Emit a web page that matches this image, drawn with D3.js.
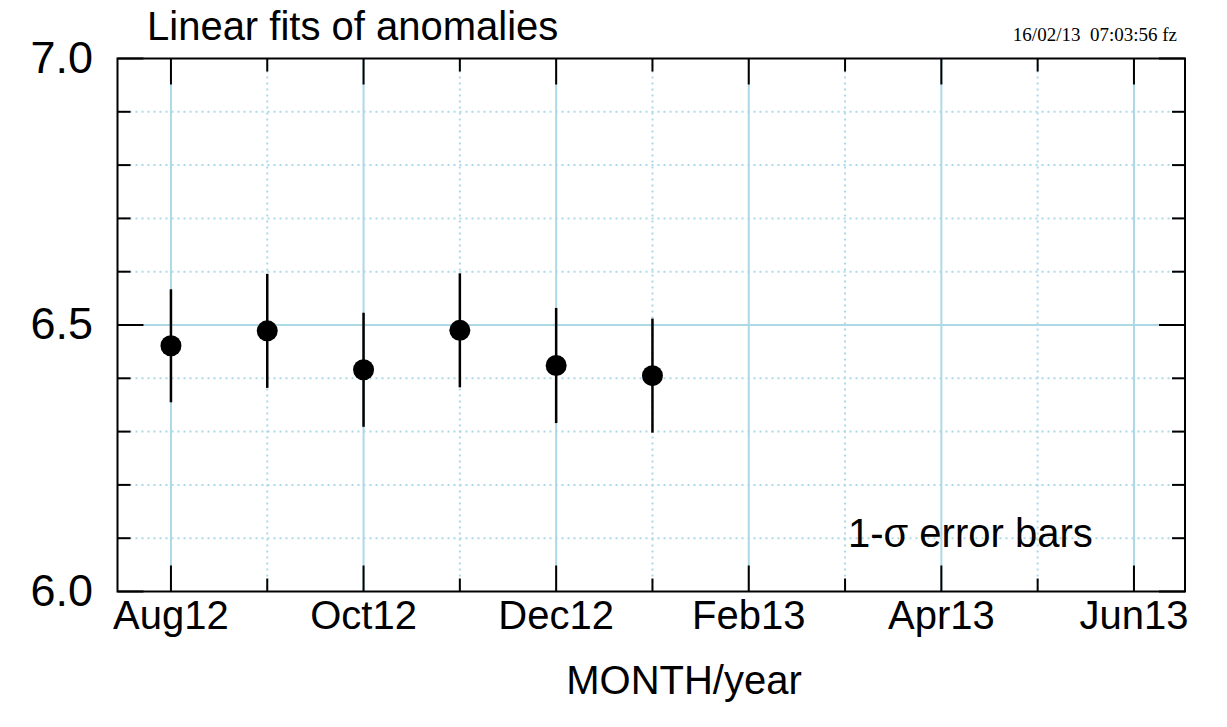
<!DOCTYPE html>
<html>
<head>
<meta charset="utf-8">
<script src="https://cdn.jsdelivr.net/npm/d3@7"></script>
<style>
  body { margin: 0; background: #fff; }
  svg { display: block; }
  text { font-family: "Liberation Sans", Arial, sans-serif; fill: #000; }
</style>
</head>
<body>
<svg id="chart" width="1227" height="727"></svg>
<script>
// fitted values per month (month index 0 = Aug12)
const months = [0, 1, 2, 3, 4, 5];
const values = [6.461, 6.489, 6.416, 6.490, 6.424, 6.405];
const errors = [0.106, 0.107, 0.107, 0.107, 0.108, 0.107];

const xTickLabels = ["Aug12", "Oct12", "Dec12", "Feb13", "Apr13", "Jun13"];
const xMajor = [0, 2, 4, 6, 8, 10];
const xMinor = [1, 3, 5, 7, 9];
const yMajor = [6.0, 6.5, 7.0];
const yMinor = [6.1, 6.2, 6.3, 6.4, 6.6, 6.7, 6.8, 6.9];

const m = { left: 117.5, top: 58.5, right: 1185, bottom: 591.5 };

const svg = d3.select("#chart");

const x = d3.scaleLinear().domain([-0.555, 10.53]).range([m.left, m.right]);
const y = d3.scaleLinear().domain([6.0, 7.0]).range([m.bottom, m.top]);

const gridColor = "#add8e6";
const major = 26, minor = 13;
const fs = "40px";

// grid
const grid = svg.append("g");
grid.selectAll(".gx").data(xMajor).join("line")
  .attr("x1", d => x(d)).attr("x2", d => x(d))
  .attr("y1", m.top).attr("y2", m.bottom)
  .attr("stroke", gridColor).attr("stroke-width", 2);
grid.selectAll(".gxm").data(xMinor).join("line")
  .attr("x1", d => x(d)).attr("x2", d => x(d))
  .attr("y1", m.top).attr("y2", m.bottom)
  .attr("stroke", gridColor).attr("stroke-width", 2)
  .attr("stroke-dasharray", "2,4");
grid.selectAll(".gy").data(yMajor.filter(d => d > 6 && d < 7)).join("line")
  .attr("x1", m.left).attr("x2", m.right)
  .attr("y1", d => y(d)).attr("y2", d => y(d))
  .attr("stroke", gridColor).attr("stroke-width", 2);
grid.selectAll(".gym").data(yMinor).join("line")
  .attr("x1", m.left).attr("x2", m.right)
  .attr("y1", d => y(d)).attr("y2", d => y(d))
  .attr("stroke", gridColor).attr("stroke-width", 2)
  .attr("stroke-dasharray", "2,4");

// tick marks
const ticks = svg.append("g").attr("stroke", "#000").attr("stroke-width", 2);
const xt = xMajor.map(d => [d, major]).concat(xMinor.map(d => [d, minor]));
ticks.selectAll(".xb").data(xt).join("line")
  .attr("x1", d => x(d[0])).attr("x2", d => x(d[0]))
  .attr("y1", m.bottom).attr("y2", d => m.bottom - d[1]);
ticks.selectAll(".xt").data(xt).join("line")
  .attr("x1", d => x(d[0])).attr("x2", d => x(d[0]))
  .attr("y1", m.top).attr("y2", d => m.top + d[1]);
const yt = yMajor.map(d => [d, major]).concat(yMinor.map(d => [d, minor]));
ticks.selectAll(".yl").data(yt).join("line")
  .attr("x1", m.left).attr("x2", d => m.left + d[1])
  .attr("y1", d => y(d[0])).attr("y2", d => y(d[0]));
ticks.selectAll(".yr").data(yt).join("line")
  .attr("x1", m.right).attr("x2", d => m.right - d[1])
  .attr("y1", d => y(d[0])).attr("y2", d => y(d[0]));

// frame
svg.append("rect")
  .attr("x", m.left).attr("y", m.top)
  .attr("width", m.right - m.left).attr("height", m.bottom - m.top)
  .attr("fill", "none").attr("stroke", "#000").attr("stroke-width", 2);

// tick labels
svg.append("g").selectAll("text").data(xMajor).join("text")
  .attr("x", d => x(d)).attr("y", 629)
  .attr("text-anchor", "middle")
  .style("font-size", fs)
  .text((d, i) => xTickLabels[i]);
svg.append("g").selectAll("text").data(yMajor).join("text")
  .attr("x", 93).attr("y", d => y(d) + 14)
  .attr("text-anchor", "end")
  .style("font-size", "45px")
  .text(d => d.toFixed(1));

// error bars + points
const pts = months.map((d, i) => ({ m: d, v: values[i], e: errors[i] }));
svg.append("g").selectAll("line").data(pts).join("line")
  .attr("x1", d => x(d.m)).attr("x2", d => x(d.m))
  .attr("y1", d => y(d.v - d.e)).attr("y2", d => y(d.v + d.e))
  .attr("stroke", "#000").attr("stroke-width", 2.5);
svg.append("g").selectAll("circle").data(pts).join("circle")
  .attr("cx", d => x(d.m)).attr("cy", d => y(d.v))
  .attr("r", 10.5).attr("fill", "#000");

// texts
svg.append("text").attr("x", 147).attr("y", 40)
  .style("font-size", fs).text("Linear fits of anomalies");
svg.append("text").attr("x", 1177).attr("y", 41)
  .attr("text-anchor", "end")
  .style("font-family", "'Liberation Serif', 'Times New Roman', serif")
  .style("font-size", "19px")
  .attr("xml:space", "preserve")
  .text("16/02/13  07:03:56 fz");
svg.append("text").attr("x", 848).attr("y", 547)
  .style("font-size", fs).text("1-σ error bars");
svg.append("text").attr("x", 684).attr("y", 694)
  .attr("text-anchor", "middle")
  .style("font-size", fs).text("MONTH/year");
</script>
</body>
</html>
